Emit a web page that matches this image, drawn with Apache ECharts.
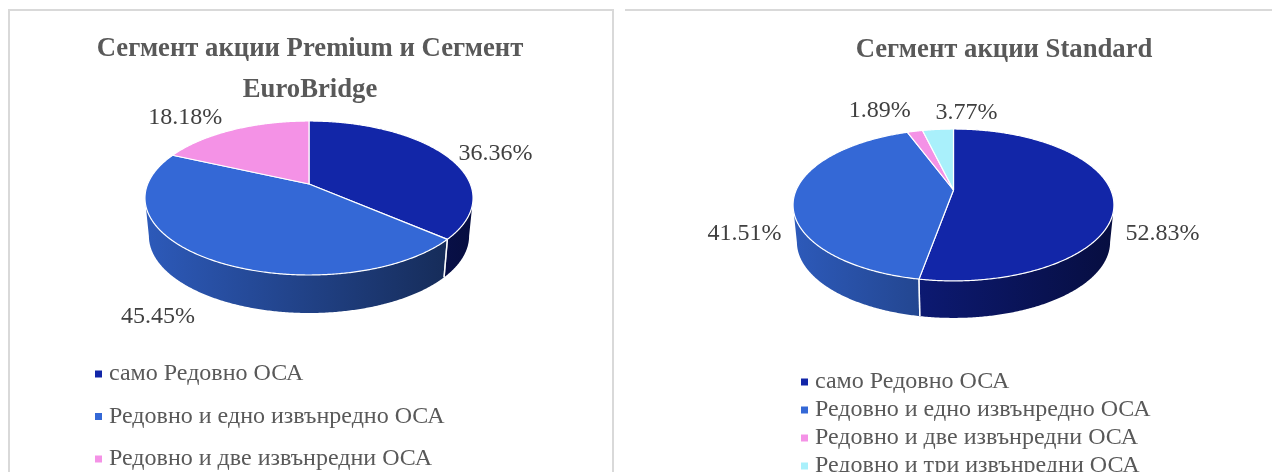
<!DOCTYPE html>
<html>
<head>
<meta charset="utf-8">
<style>html,body{margin:0;padding:0;background:#fff;overflow:hidden}#c{width:1272px;height:472px}</style>
<script src="https://cdn.jsdelivr.net/npm/echarts@6/dist/echarts.min.js"></script>
</head>
<body>
<div id="c"></div>
<script>
const categories = ['само Редовно ОСА', 'Редовно и едно извънредно ОСА', 'Редовно и две извънредни ОСА', 'Редовно и три извънредни ОСА'];
const premiumValues = [36.36, 45.45, 18.18];
const standardValues = [52.83, 41.51, 1.89, 3.77];
const sliceColors = ['#1226a8', '#3468d6', '#f492e6', '#a9f0fb'];
const titleLeft = 'Сегмент акции Premium и Сегмент\nEuroBridge';
const titleRight = 'Сегмент акции Standard';

// Perspective disc geometry: apex, horizontal/vertical scale, perspective strength, wall depth
const leftDisc = { ax: 309, ay: 184, a: 161.3, b: 74.45, k: 0.1818, depth: 38, shrink: 0.976, minX: 145, maxX: 473,
  labelNudge: [[50, -2], [-48, 59], [-48, -12]] };
const rightDisc = { ax: 953.5, ay: 190, a: 157.3, b: 73, k: 0.197, depth: 37, shrink: 0.976, minX: 793, maxX: 1114,
  labelNudge: [[49.5, 37], [-49.5, 37], [-35, -21], [28.5, -17]] };

const serif = '"Liberation Serif", serif';

function project(d, deg) {
  const t = deg * Math.PI / 180, u = Math.sin(t), v = -Math.cos(t), q = 1 - d.k * v;
  return { x: d.ax + d.a * u / q, y: d.ay + d.b * v / q, v };
}
function lower(d, p) {
  return [d.ax + (p.x - d.ax) * d.shrink, p.y + d.depth];
}
function shade(hex, f) {
  const n = parseInt(hex.slice(1), 16);
  return 'rgb(' + [(n >> 16) & 255, (n >> 8) & 255, n & 255].map(c => Math.round(c * f)).join(',') + ')';
}
function sliceSeries(values, disc, idx) {
  const total = values.reduce((s, x) => s + x, 0);
  const before = values.slice(0, idx).reduce((s, x) => s + x, 0);
  const start = before / total * 360, end = (before + values[idx]) / total * 360;
  const color = sliceColors[idx];
  return {
    type: 'custom',
    coordinateSystem: 'none',
    name: categories[idx],
    itemStyle: { color },
    animation: false,
    silent: true,
    data: [{ name: categories[idx], value: values[idx] }],
    renderItem() {
      const angles = [];
      for (let t = start; t < end; t += 0.5) angles.push(t);
      angles.push(end);
      const rim = angles.map(t => project(disc, t));
      const children = [];
      const front = rim.filter(p => p.v >= disc.k);
      if (front.length > 1) {
        const pts = front.map(p => [p.x, p.y]).concat(front.slice().reverse().map(p => lower(disc, p)));
        children.push({
          type: 'polygon', z2: 1, shape: { points: pts },
          style: {
            fill: new echarts.graphic.LinearGradient(disc.minX, 0, disc.maxX, 0, [
              { offset: 0, color: shade(color, 0.87) },
              { offset: 1, color: shade(color, 0.38) }
            ], true)
          }
        });
      }
      [rim[0], rim[rim.length - 1]].forEach(p => {
        if (p.v >= disc.k) {
          const q = lower(disc, p);
          children.push({
            type: 'line', z2: 3, shape: { x1: p.x, y1: p.y, x2: q[0], y2: q[1] },
            style: { stroke: '#ffffff', lineWidth: 1.4, opacity: 0.85 }
          });
        }
      });
      children.push({
        type: 'polygon', z2: 2,
        shape: { points: [[disc.ax, disc.ay]].concat(rim.map(p => [p.x, p.y])) },
        style: { fill: color, stroke: '#ffffff', lineWidth: 1.2, lineJoin: 'round' }
      });
      const mid = project(disc, (start + end) / 2), nudge = disc.labelNudge[idx];
      children.push({
        type: 'text', z2: 4,
        style: {
          text: values[idx].toFixed(2) + '%', x: mid.x + nudge[0], y: mid.y + nudge[1],
          fill: '#404040', fontFamily: serif, fontSize: 24, align: 'center', verticalAlign: 'middle'
        }
      });
      return { type: 'group', children };
    }
  };
}

const series = [];
premiumValues.forEach((_, i) => series.push(sliceSeries(premiumValues, leftDisc, i)));
standardValues.forEach((_, i) => series.push(sliceSeries(standardValues, rightDisc, i)));

const legendBase = { orient: 'vertical', icon: 'rect', itemWidth: 7, itemHeight: 7, selectedMode: false, height: 400 };
const legendText = { color: '#595959', fontFamily: serif, fontSize: 24, lineHeight: 24, padding: [0, 0, 0, 2] };
const titleText = { color: '#595959', fontFamily: serif, fontSize: 26.7, fontWeight: 'bold', lineHeight: 41 };

const chart = echarts.init(document.getElementById('c'), null, { renderer: 'canvas', width: 1272, height: 472 });
chart.setOption({
  animation: false,
  backgroundColor: '#ffffff',
  title: [
    { text: titleLeft, left: 305, top: 23.5, textAlign: 'center', textStyle: titleText },
    { text: titleRight, left: 999, top: 24.5, textAlign: 'center', textStyle: titleText }
  ],
  legend: [
    Object.assign({}, legendBase, { left: 90, top: 357, itemGap: 18.5, data: categories.slice(0, 3), textStyle: legendText }),
    Object.assign({}, legendBase, { left: 796, top: 365, itemGap: 4, data: categories.slice(0, 4), textStyle: legendText })
  ],
  graphic: [
    { type: 'polyline', silent: true, shape: { points: [[9, 472], [9, 10], [613, 10], [613, 472]] },
      style: { fill: 'none', stroke: '#d9d9d9', lineWidth: 2 } },
    { type: 'line', silent: true, shape: { x1: 625, y1: 10, x2: 1272, y2: 10 },
      style: { stroke: '#d9d9d9', lineWidth: 2 } }
  ],
  series
});
</script>
</body>
</html>
